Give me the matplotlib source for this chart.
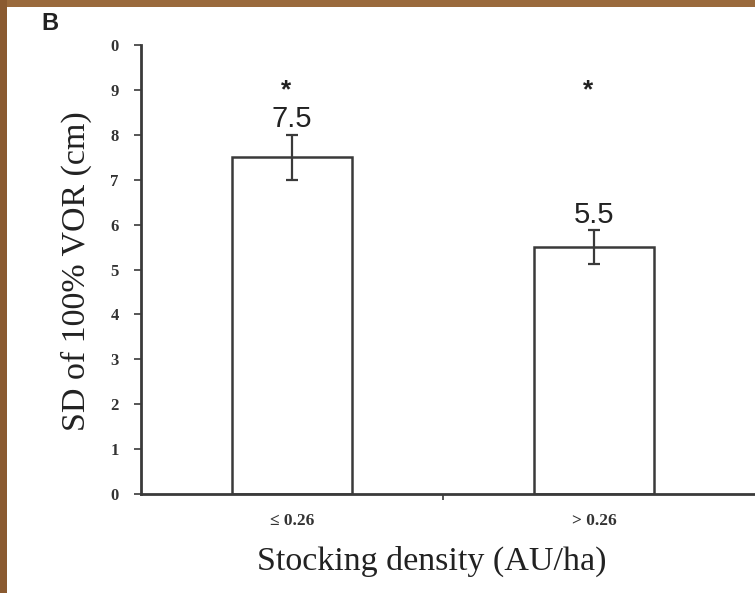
import numpy as np
import matplotlib.pyplot as plt
from matplotlib.patches import Rectangle

categories = ["\u2264 0.26", "> 0.26"]
sd_values = [7.5, 5.5]
sd_errors = [0.5, 0.37]
value_labels = ["7.5", "5.5"]
signif = ["*", "*"]
ytick_vals = list(range(0, 11))
ytick_labels = ["0", "1", "2", "3", "4", "5", "6", "7", "8", "9", "0"]

ink = "#3a3a3a"
serif = ["Liberation Serif", "DejaVu Serif"]
sans = ["Liberation Sans", "DejaVu Sans"]

fig = plt.figure(figsize=(7.55, 5.93), dpi=100)
fig.patch.set_facecolor("white")

# wooden frame strips along the top and left edges
fig.patches.append(Rectangle((0, 1 - 7 / 593), 1, 7 / 593, transform=fig.transFigure,
                             facecolor="#9a6a3c", edgecolor="none", zorder=0))
fig.patches.append(Rectangle((0, 0), 7 / 755, 1, transform=fig.transFigure,
                             facecolor="#8a5a30", edgecolor="none", zorder=0))

ax = fig.add_axes([141 / 755, 1 - 494 / 593, 1 - 141 / 755, (494 - 45) / 593])

x = np.arange(len(categories))
ax.bar(x, sd_values, width=0.4, color="white", edgecolor=ink, linewidth=1.8, zorder=2)
ax.errorbar(x, sd_values, yerr=sd_errors, fmt="none", ecolor=ink, elinewidth=1.6,
            capsize=4, capthick=1.6, zorder=3)

for xi, v, e, lab, s in zip(x, sd_values, sd_errors, value_labels, signif):
    ax.text(xi, v + e + 0.35, lab, ha="center", va="center", fontsize=21,
            family=sans, color="#222222")
    ax.text(xi - 0.02, 9.0, s, ha="center", va="center", fontsize=19,
            fontweight="bold", family=sans, color="#222222")

ax.set_xlim(-0.5, 1.533)
ax.set_ylim(0, 10)

ax.set_yticks(ytick_vals)
ax.set_yticklabels(ytick_labels, family=serif, fontsize=12, fontweight="bold", color="#333333")
ax.tick_params(axis="y", length=5, width=1.2, color=ink, pad=11)

ax.set_xticks(x)
ax.set_xticklabels(categories, family=serif, fontsize=12.5, fontweight="bold", color="#333333")
ax.set_xticks([0.5], minor=True)
ax.tick_params(axis="x", which="major", length=0, pad=14)
ax.tick_params(axis="x", which="minor", length=4, width=1.2, color=ink)

for side in ["top", "right"]:
    ax.spines[side].set_visible(False)
for side in ["left", "bottom"]:
    ax.spines[side].set_color(ink)
    ax.spines[side].set_linewidth(2)

ax.set_ylabel("SD of 100% VOR (cm)", family=serif, fontsize=24.5, color="#222222")
ax.set_xlabel("Stocking density (AU/ha)", family=serif, fontsize=24.5, color="#222222")
ax.yaxis.set_label_coords(-0.08, 0.497)
ax.xaxis.set_label_coords(0.474, -0.115)

fig.text(41 / 755, 1 - 24 / 593, "B", fontsize=17, fontweight="bold",
         family=sans, va="center", ha="left", color="#222222")

fig.savefig("out.png", dpi=100)
